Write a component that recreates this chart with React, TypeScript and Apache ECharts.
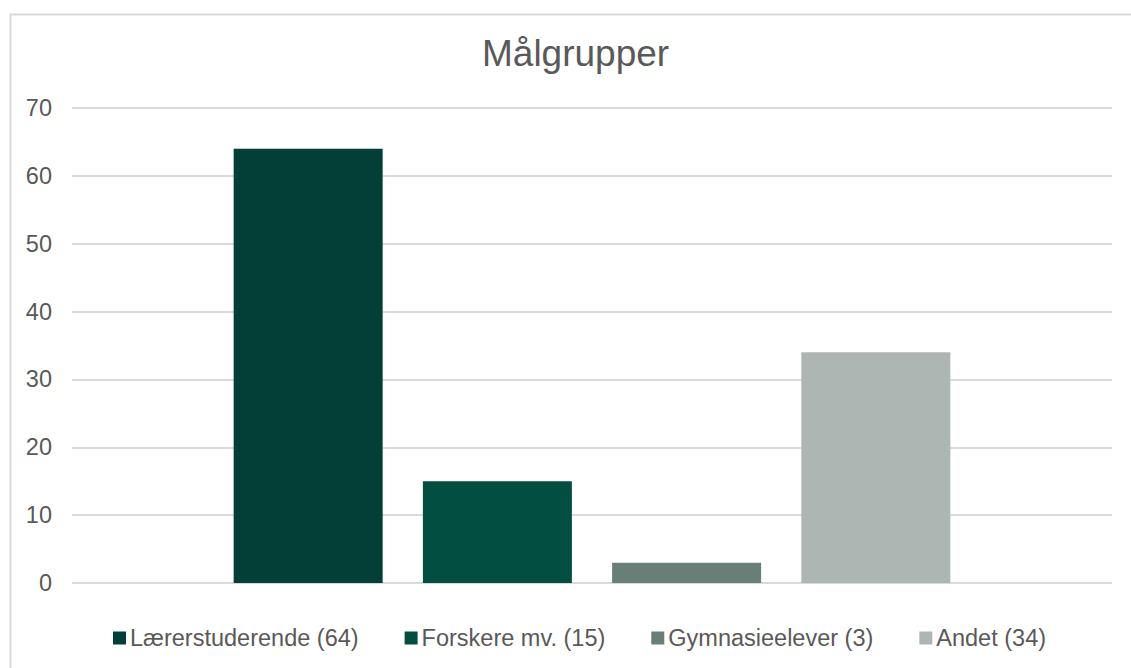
import React, { useEffect, useRef } from "react";
import * as echarts from "echarts";

const seriesNames = ["Lærerstuderende (64)", "Forskere mv. (15)", "Gymnasieelever (3)", "Andet (34)"];
const seriesValues = [64, 15, 3, 34];
const seriesColors = ["#033f37", "#024f42", "#687f78", "#adb6b2"];
const yTicks = { min: 0, max: 70, interval: 10 };
const titleText = "Målgrupper";

const FONT = "'Liberation Sans', Arial, Helvetica, sans-serif";

export default function App() {
  const ref = useRef<HTMLDivElement>(null);
  useEffect(() => {
    if (!ref.current) return;
    const chart = echarts.init(ref.current, undefined, { renderer: "svg" });
    chart.setOption({
      animation: false,
      backgroundColor: "#ffffff",
      title: {
        text: titleText,
        left: 482,
        top: 35,
        padding: 0,
        textStyle: { fontFamily: FONT, fontSize: 37, fontWeight: "normal", color: "#595959" },
      },
      grid: { left: 72, right: 19, top: 108, bottom: 85, containLabel: false },
      legend: {
        data: seriesNames,
        left: 113,
        top: 626,
        padding: 0,
        itemWidth: 13,
        itemHeight: 13,
        itemGap: 46,
        icon: "rect",
        textStyle: { fontFamily: FONT, fontSize: 23.5, color: "#595959", padding: [0, 0, 0, -1] },
      },
      xAxis: {
        type: "category",
        data: [""],
        axisLine: { show: false },
        axisTick: { show: false },
        axisLabel: { show: false },
        splitLine: { show: false },
      },
      yAxis: {
        type: "value",
        min: yTicks.min,
        max: yTicks.max,
        interval: yTicks.interval,
        axisLine: { show: false },
        axisTick: { show: false },
        axisLabel: { fontFamily: FONT, fontSize: 23.5, color: "#595959", margin: 20 },
        splitLine: { show: true, lineStyle: { color: "#d9d9d9", width: 2 } },
      },
      series: seriesNames.map((name, i) => ({
        name,
        type: "bar",
        data: [seriesValues[i]],
        barWidth: 149,
        barGap: "27%",
        itemStyle: { color: seriesColors[i] },
      })),
      graphic: [
        {
          type: "rect",
          left: 8,
          top: 12,
          shape: { x: 0, y: 0, width: 1140, height: 700 },
          style: { fill: "none", stroke: "#d9d9d9", lineWidth: 2 },
          silent: true,
          z: -1,
        },
      ],
    });
    return () => chart.dispose();
  }, []);
  return (
    <div
      ref={ref}
      style={{ position: "fixed", left: 0, top: 0, width: 1131, height: 668 }}
    />
  );
}
